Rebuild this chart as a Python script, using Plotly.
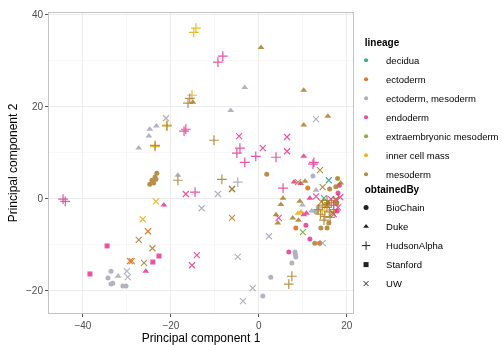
import plotly.graph_objects as go

# ---------------- data (PC1, PC2, obtainedBy code) ----------------
SOURCE_NAMES = ["BioChain", "Duke", "HudsonAlpha", "Stanford", "UW"]
SOURCE_CODES = ["B", "D", "H", "S", "U"]
LINEAGES = ["decidua", "ectoderm", "ectoderm, mesoderm", "endoderm",
            "extraembryonic mesoderm", "inner cell mass", "mesoderm"]

decidua_pc1 = [15.9, 14.8]
decidua_pc2 = [3.9, 0.0]
decidua_src = ["U", "U"]

ectoderm_pc1 = [-25.2, -29.3, -28.9, 11.1, 8.4, 13.8]
ectoderm_pc2 = [-7.2, -13.7, -13.7, 2.2, -6.5, -9.8]
ectoderm_src = ["U", "U", "U", "B", "B", "B"]

ectomeso_pc1 = [-24.8, -23.3, -25.0, -27.3, -3.2, -6.4, -18.4, -32.0, 12.0, 13.0, 9.9,
                -21.1, 13.0, -9.3, -13.0, 2.3, -4.8, -1.4, -3.6, -30.0, -29.8, -6.1, 14.5,
                -33.6, -34.3, -33.6, -33.2, -30.9, -30.2, 7.5, 2.7, 0.9, 8.2, 8.4, 8.3, 12.3, 13.0, 13.5,
                -4.8]
ectomeso_pc2 = [15.0, 15.7, 13.5, 10.9, 24.1, 19.1, 5.0, -17.0, -2.8, 1.7, -1.5,
                17.4, 17.2, 0.9, -2.2, -8.3, -12.8, -19.6, -22.4, -15.9, -17.2, 2.0, -9.8,
                -15.9, -17.4, -18.7, -18.5, -19.1, -19.1, -14.1, -17.2, -21.3, -11.7, -12.8, -12.2, 4.8, -3.0, -2.0,
                3.5]
ectomeso_src = ["D"] * 11 + ["U"] * 12 + ["B"] * 15 + ["H"]

endoderm_pc1 = [-44.5, -44.0, -17.0, -16.6, -8.2, -9.3, -14.5, -4.3, -5.0, -0.7, -3.2, 3.9, 12.5, 12.3, 5.5, 17.0,
                -16.6, -4.5, 0.9, 6.4, 6.4, -14.1, -15.2, 13.0, 16.4, 17.5, 4.5, 18.0, 17.0, 18.5,
                -34.5, -38.4, -22.7, -24.1,
                -21.6, -25.7, 10.2, 8.0, 11.6, 10.8, 10.2, 9.5,
                18.0, 10.7, 11.6, 6.8, 18.3, 17.8]
endoderm_pc2 = [-0.2, -0.7, 14.6, 15.0, 30.9, 29.6, 1.3, 10.9, 9.8, 9.1, 7.8, 8.9, 7.8, 7.4, 2.2, -1.5,
                0.9, 13.5, 10.9, 13.3, 10.2, -12.4, -14.6, 0.4, -0.2, -0.4, -4.3, -2.0, -3.5, 0.2,
                -10.4, -16.5, -12.6, -13.9,
                -1.5, -15.9, 9.1, 3.5, 0.0, -3.3, -3.6, 3.2,
                1.1, -5.9, -8.9, -11.7, 2.8, -2.8]
endoderm_src = ["H"] * 16 + ["U"] * 14 + ["S"] * 4 + ["D"] * 8 + ["B"] * 6

extraemb_pc1 = [10.0]
extraemb_pc2 = [-7.4]
extraemb_src = ["U"]

icm_pc1 = [-14.3, -14.8, -15.2, -20.9, -23.6, 15.0, 14.4, -23.4, -26.4, 8.9, 9.6]
icm_pc2 = [37.0, 36.1, 22.4, 15.9, 11.2, -2.0, -2.8, -0.7, -4.6, -3.3, -3.0]
icm_src = ["H"] * 7 + ["U"] * 2 + ["D"] * 2

mesoderm_pc1 = [-15.7, -16.1, -20.9, -23.6, -10.2, -18.4, -8.4, 7.5, 6.8,
                14.5, 15.5, 16.0, 14.0, 15.0, 16.5, 13.5, 17.0, 15.5, 14.8, 16.2,
                -15.0, 0.5, 10.2, 15.7, 10.2, 10.5, 18.6, 5.5, 9.3, 5.0, 3.9, 4.3, 7.7, 9.0,
                -23.2, -23.6, -24.3, -23.9, -24.8, -23.4, 1.8, 17.9, 16.1, 15.7, 17.7, 14.1, 15.5, 15.9, 12.7, 17.5,
                13.9, 8.9, 14.5, -27.3, -24.2, -26.1, -6.1, -6.1, 15.5, 16.8, 17.5, 14.2]
mesoderm_pc2 = [21.7, 20.7, 15.7, 11.5, 12.6, 3.9, 4.1, -17.0, -18.7,
                -1.5, -2.0, -3.0, -3.5, -4.0, -1.0, -2.5, -2.5, -0.5, -4.8, -4.2,
                20.9, 32.8, 23.5, 17.8, 15.9, 3.7, 3.3, 0.0, -0.7, -1.4, -3.6, -5.4, -4.3, -4.8,
                5.4, 4.6, 3.9, 3.3, 3.0, 4.1, 5.2, 4.3, 2.0, -1.1, -1.1, -6.5, -6.5, -5.4, -9.8, 2.5,
                6.1, 3.5, 2.4, -9.1, -10.9, -14.1, -4.3, 2.0, -1.5, -3.2, -0.2, -0.8]
mesoderm_src = ["H"] * 20 + ["D"] * 14 + ["B"] * 16 + ["U"] * 12

# ---------------- styling ----------------
lineage_data = [
    ("decidua", decidua_pc1, decidua_pc2, decidua_src, "#1B9E77"),
    ("ectoderm", ectoderm_pc1, ectoderm_pc2, ectoderm_src, "#D95F02"),
    ("ectoderm, mesoderm", ectomeso_pc1, ectomeso_pc2, ectomeso_src, "#A09FAF"),
    ("endoderm", endoderm_pc1, endoderm_pc2, endoderm_src, "#E7298A"),
    ("extraembryonic mesoderm", extraemb_pc1, extraemb_pc2, extraemb_src, "#66A61E"),
    ("inner cell mass", icm_pc1, icm_pc2, icm_src, "#E6AB02"),
    ("mesoderm", mesoderm_pc1, mesoderm_pc2, mesoderm_src, "#A6761D"),
]
symbol_of = {"B": ("circle", 5, False), "D": ("triangle-up", 6, False),
             "H": ("cross-thin-open", 7, True), "S": ("square", 5, False),
             "U": ("x-thin-open", 6, True)}

fig = go.Figure()
for name, xs, ys, src, col in lineage_data:
    for code in SOURCE_CODES:
        px = [x for x, s in zip(xs, src) if s == code]
        py = [y for y, s in zip(ys, src) if s == code]
        if not px:
            continue
        sym, size, is_open = symbol_of[code]
        fig.add_trace(go.Scatter(
            x=px, y=py, mode="markers", showlegend=False, opacity=0.8,
            marker=dict(symbol=sym, size=size, color=col,
                        line=dict(color=col, width=1.2 if is_open else 0)),
            hoverinfo="skip"))

# legend entries: lineage
for name, xs, ys, src, col in lineage_data:
    fig.add_trace(go.Scatter(
        x=[None], y=[None], mode="markers", name=name, legend="legend",
        marker=dict(symbol="circle", size=4, color=col, opacity=0.85)))
# legend entries: obtainedBy
for code, sname in zip(SOURCE_CODES, SOURCE_NAMES):
    sym, size, is_open = symbol_of[code]
    fig.add_trace(go.Scatter(
        x=[None], y=[None], mode="markers", name=sname, legend="legend2",
        marker=dict(symbol=sym, size=max(size - 1, 5), color="#222222",
                    line=dict(color="#222222", width=1.0 if is_open else 0))))

FONT = "Liberation Sans, Arial, sans-serif"
NB = "\u00a0" * 6
axis_common = dict(
    showline=True, mirror=True, linecolor="#c4c4c4", linewidth=1,
    showgrid=True, gridcolor="#ebebeb", gridwidth=1,
    ticks="outside", ticklen=3, tickcolor="#555555",
    tickfont=dict(size=10, color="#4d4d4d", family=FONT),
    zeroline=False, automargin=False,
    minor=dict(dtick=10, showgrid=True, gridcolor="#f7f7f7", gridwidth=1),
)
fig.update_layout(
    width=503, height=345,
    margin=dict(l=49, r=150, t=13, b=32, autoexpand=False),
    plot_bgcolor="white", paper_bgcolor="white",
    font=dict(family=FONT, color="black"),
    xaxis=dict(range=[-47.7, 21.4], tickvals=[-40, -20, 0, 20], dtick=20, tick0=0,
               title=dict(text="Principal component 1", font=dict(size=12), standoff=0),
               **axis_common),
    yaxis=dict(range=[-25.0, 40.3], tickvals=[-20, 0, 20, 40], dtick=20, tick0=0,
               title=dict(text="Principal component 2", font=dict(size=12), standoff=5),
               **axis_common),
    legend=dict(title=dict(text=NB + "<b>lineage</b>", font=dict(size=10)),
                font=dict(size=9.5, family=FONT), xref="container", yref="container",
                x=0.688, y=0.905, xanchor="left", yanchor="top", itemwidth=30,
                bgcolor="rgba(0,0,0,0)", itemsizing="trace"),
    legend2=dict(title=dict(text=NB + "<b>obtainedBy</b>", font=dict(size=10)),
                 font=dict(size=9.5, family=FONT), xref="container", yref="container",
                 x=0.688, y=0.478, xanchor="left", yanchor="top", itemwidth=30,
                 bgcolor="rgba(0,0,0,0)", itemsizing="trace"),
)

fig.write_html("out.html", config={"displayModeBar": False},
               post_script="document.body.style.margin='0';")
